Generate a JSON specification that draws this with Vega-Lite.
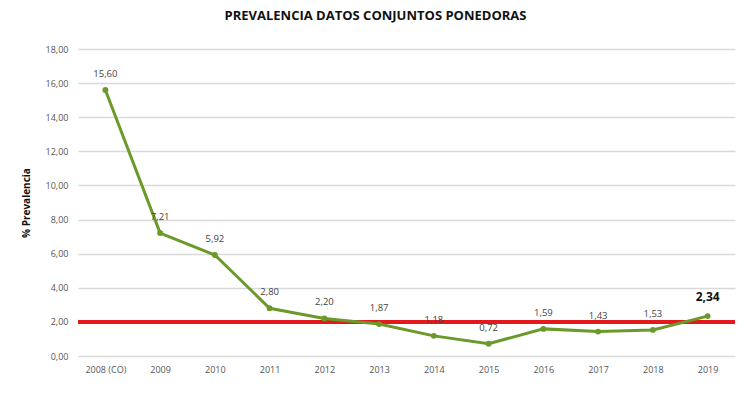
{
  "$schema": "https://vega.github.io/schema/vega-lite/v6.json",
  "width": 657,
  "height": 307,
  "autosize": {"type": "none"},
  "padding": {"left": 78, "top": 49, "right": 15, "bottom": 38},
  "background": "white",
  "config": {
    "locale": {"number": {"decimal": ",", "thousands": ".", "grouping": [3], "currency": ["", " €"]}},
    "font": "Open Sans",
    "view": {"stroke": null}
  },
  "title": {
    "text": "PREVALENCIA DATOS CONJUNTOS PONEDORAS",
    "font": "Open Sans",
    "fontSize": 13,
    "fontWeight": "bold",
    "color": "#111111",
    "anchor": "middle",
    "dx": -31,
    "offset": 22
  },
  "data": {
    "values": [
      {"year": "2008 (CO)", "value": 15.60},
      {"year": "2009", "value": 7.21},
      {"year": "2010", "value": 5.92},
      {"year": "2011", "value": 2.80},
      {"year": "2012", "value": 2.20},
      {"year": "2013", "value": 1.87},
      {"year": "2014", "value": 1.18},
      {"year": "2015", "value": 0.72},
      {"year": "2016", "value": 1.59},
      {"year": "2017", "value": 1.43},
      {"year": "2018", "value": 1.53},
      {"year": "2019", "value": 2.34}
    ]
  },
  "encoding": {
    "x": {
      "field": "year",
      "type": "ordinal",
      "sort": null,
      "scale": {"type": "point", "padding": 0.5},
      "axis": {
        "title": null,
        "labelAngle": 0,
        "labelFont": "Open Sans",
        "labelFontSize": 9,
        "labelColor": "#555555",
        "domain": false,
        "ticks": false,
        "grid": false,
        "labelPadding": 9
      }
    },
    "y": {
      "field": "value",
      "type": "quantitative",
      "scale": {"domain": [0, 18], "nice": false},
      "axis": {
        "title": "% Prevalencia",
        "titleFont": "Open Sans",
        "titleFontSize": 10,
        "titleFontWeight": "bold",
        "titleColor": "#111111",
        "titlePadding": 14,
        "values": [0, 2, 4, 6, 8, 10, 12, 14, 16, 18],
        "format": ".2f",
        "labelFont": "Open Sans",
        "labelFontSize": 9,
        "labelColor": "#555555",
        "labelPadding": 10,
        "domain": false,
        "ticks": false,
        "gridColor": "#d9d9d9",
        "gridWidth": 1.5
      }
    }
  },
  "layer": [
    {
      "mark": {"type": "rule", "color": "#e3191c", "strokeWidth": 3},
      "encoding": {"y": {"datum": 2}, "x": null}
    },
    {
      "mark": {"type": "line", "color": "#6b9a2b", "strokeWidth": 3, "point": {"filled": true, "size": 35, "color": "#6b9a2b"}}
    },
    {
      "transform": [{"filter": "datum.year != '2019'"}],
      "mark": {"type": "text", "dy": -16, "fontSize": 9.5, "color": "#444444", "font": "Open Sans"},
      "encoding": {"text": {"field": "value", "type": "quantitative", "format": ".2f"}}
    },
    {
      "transform": [{"filter": "datum.year == '2019'"}],
      "mark": {"type": "text", "dy": -19, "fontSize": 12, "fontWeight": "bold", "color": "#111111", "font": "Open Sans"},
      "encoding": {"text": {"field": "value", "type": "quantitative", "format": ".2f"}}
    }
  ]
}
